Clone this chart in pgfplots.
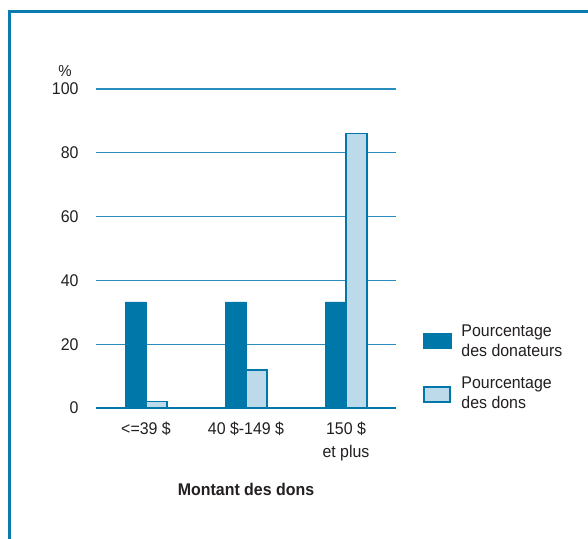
\documentclass[border=0pt]{standalone}
\usepackage{pgfplots}
\pgfplotsset{compat=1.18}
\usepackage{fontspec}
\setmainfont{Liberation Sans}[FakeStretch=0.94]
\definecolor{darkb}{HTML}{0077A9}
\definecolor{lightb}{HTML}{BCDAEA}
\definecolor{gridb}{HTML}{2A8DBF}
\definecolor{frameb}{HTML}{0A7BAE}
\definecolor{txt}{HTML}{231F20}
\begin{document}
\begin{tikzpicture}[x=1bp,y=1bp]
\useasboundingbox (0,0) rectangle (588,539);
\draw[frameb, line width=3bp] (9.7,-5) -- (9.7,527.7) -- (600,527.7);
\begin{axis}[
  at={(96bp,131bp)}, anchor=south west,
  scale only axis, width=300bp, height=319bp,
  xmin=-0.5, xmax=2.5, ymin=0, ymax=100,
  ybar=0pt, bar width=21bp,
  axis x line*=bottom, axis y line*=left,
  x axis line style={draw=darkb, line width=2bp, -},
  y axis line style={draw=none},
  xtick={0,1,2}, xticklabels={{<=39 \$},{40 \$-149 \$},{150 \$\\et plus}},
  xticklabel style={align=center, text=txt, font=\fontsize{17}{24}\selectfont, yshift=-10bp},
  major tick length=0pt,
  ytick={0,20,40,60,80,100},
  ymajorgrids, grid style={draw=gridb, line width=1.2bp},
  /pgf/number format/assume math mode=true,
  yticklabel style={text=txt, font=\fontsize{17}{20}\selectfont, xshift=-14bp},
  ylabel={\%}, ylabel style={rotate=-90, at={(axis description cs:-0.103,1.056)}, anchor=center, text=txt, font=\fontsize{16}{18}\selectfont},
  xlabel={\textbf{Montant des dons}}, xlabel style={at={(axis description cs:0.5,-0.254)}, anchor=center, text=txt, font=\fontsize{17}{20}\selectfont},
  legend style={at={(axis description cs:1.08,0.274)}, anchor=north west, draw=none, fill=none,
    font=\fontsize{17}{20}\selectfont, text=txt, cells={align=left}, row sep=15bp},
  legend cell align=left,
  clip=false,
]
\addplot[fill=darkb, draw=darkb, line width=0.5bp,
  legend image code/.code={\fill[darkb] (0bp,-7bp) rectangle (28bp,8bp);\path[draw=none,fill=none] (0bp,0bp) -- (36bp,0bp);}]
  coordinates {(0,33.3) (1,33.3) (2,33.3)};
\addplot[fill=lightb, draw=darkb, line width=1.6bp,
  legend image code/.code={\draw[fill=lightb, draw=darkb, line width=2bp] (1bp,-9bp) rectangle (27bp,6bp);\path[draw=none,fill=none] (0bp,0bp) -- (36bp,0bp);}]
  coordinates {(0,2) (1,12) (2,86)};
\legend{{Pourcentage\\des donateurs},{Pourcentage\\des dons}}
\end{axis}
\end{tikzpicture}
\end{document}
